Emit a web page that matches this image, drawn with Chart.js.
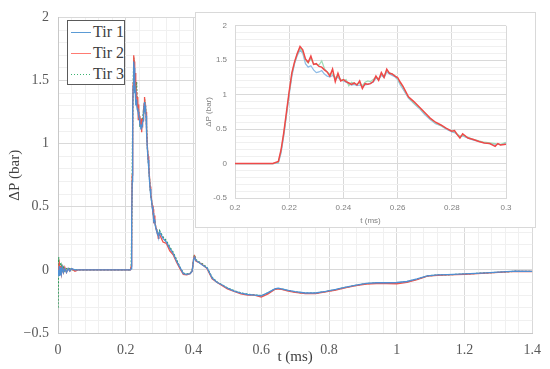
<!DOCTYPE html>
<html>
<head>
<meta charset="utf-8">
<script src="https://cdn.jsdelivr.net/npm/chart.js@4.4.0/dist/chart.umd.min.js"></script>
<style>
	html, body { margin: 0; padding: 0; background: #fff; }
	#wrap { position: relative; width: 550px; height: 369px; overflow: hidden; }
	#main { position: absolute; left: 0; top: 0; }
	#insetBox { position: absolute; left: 195px; top: 12px; width: 339px; height: 214px; background: #fff; border: 1px solid #d9d9d9; }
	#inset { position: absolute; left: 0; top: 0; }
	#legend { position: absolute; left: 67px; top: 20px; width: 56px; height: 63px; border: 1px solid #5a5a5a; background: #fff;
		font-family: 'Liberation Serif', 'DejaVu Serif', serif; font-size: 16px; color: #404040; }
	.lg-row { position: absolute; left: 3px; height: 20px; line-height: 20px; white-space: nowrap; }
	.lg-line { display: inline-block; width: 20px; height: 1.5px; vertical-align: middle; margin-right: 2px; position: relative; top: -1px; }
</style>
</head>
<body>
<div id="wrap">
	<canvas id="main" width="550" height="369"></canvas>
	<div id="insetBox"><canvas id="inset" width="339" height="214"></canvas></div>
	<div id="legend"></div>
</div>
<script>
// ΔP(t) for three shots

const seriesNames = ['Tir 1', 'Tir 2', 'Tir 3'];

const timeMs = [
	0, 0.002, 0.004, 0.006, 0.008, 0.010, 0.013, 0.016, 0.02, 0.025,
	0.03, 0.035, 0.04, 0.05, 0.06, 0.08, 0.1, 0.15, 0.2, 0.214,
	0.216, 0.217, 0.218, 0.219, 0.220, 0.221, 0.222, 0.223, 0.224, 0.225,
	0.226, 0.227, 0.228, 0.229, 0.230, 0.231, 0.232, 0.233, 0.234, 0.235,
	0.236, 0.237, 0.238, 0.239, 0.240, 0.241, 0.242, 0.243, 0.244, 0.245,
	0.246, 0.247, 0.248, 0.249, 0.250, 0.251, 0.252, 0.253, 0.254, 0.255,
	0.256, 0.257, 0.258, 0.259, 0.260, 0.261, 0.262,
	0.264, 0.266, 0.268, 0.270, 0.272, 0.274, 0.276, 0.278, 0.280, 0.281,
	0.282, 0.283, 0.284, 0.286, 0.288, 0.290, 0.292, 0.294, 0.296, 0.297,
	0.298, 0.300,
	0.31, 0.32, 0.33, 0.34, 0.35, 0.36, 0.37, 0.38, 0.39, 0.396,
	0.401, 0.403, 0.407, 0.415, 0.425, 0.44, 0.455, 0.47, 0.485, 0.5,
	0.52, 0.54, 0.56, 0.58, 0.6, 0.62, 0.64, 0.65, 0.66, 0.68,
	0.7, 0.73, 0.76, 0.79, 0.82, 0.85, 0.88, 0.91, 0.94, 0.97,
	1.0, 1.03, 1.06, 1.09, 1.12, 1.15, 1.2, 1.25, 1.3, 1.35, 1.4
];

const tir1 = [
	0, -0.05, 0.03, -0.04, 0.02, -0.03, 0.02, -0.02, 0.01, -0.02,
	0.01, -0.01, 0.01, 0, 0, 0, 0, 0, 0, 0,
	0.01, 0.15, 0.4, 0.7, 1.0, 1.27, 1.45, 1.57, 1.65, 1.6,
	1.45, 1.4, 1.42, 1.36, 1.32, 1.33, 1.35, 1.3, 1.27, 1.26,
	1.28, 1.24, 1.25, 1.21, 1.2, 1.18, 1.16, 1.14, 1.15, 1.13,
	1.14, 1.12, 1.14, 1.15, 1.17, 1.18, 1.24, 1.22, 1.28, 1.25,
	1.33, 1.3, 1.28, 1.26, 1.22, 1.14, 1.08,
	0.95, 0.87, 0.8, 0.71, 0.64, 0.58, 0.55, 0.5, 0.46, 0.45,
	0.42, 0.39, 0.4, 0.37, 0.34, 0.32, 0.3, 0.29, 0.28, 0.28,
	0.27, 0.3,
	0.25, 0.22, 0.17, 0.13, 0.07, 0.02, -0.03, -0.035, -0.03, -0.01,
	0.09, 0.1, 0.075, 0.06, 0.04, 0.015, -0.065, -0.1, -0.12, -0.145,
	-0.168, -0.185, -0.195, -0.2, -0.205, -0.18, -0.15, -0.145, -0.15, -0.163,
	-0.173, -0.183, -0.183, -0.17, -0.155, -0.137, -0.12, -0.107, -0.102, -0.102,
	-0.1, -0.092, -0.072, -0.047, -0.04, -0.038, -0.032, -0.025, -0.018, -0.01, -0.012
];

const tir2 = [
	0, 0.02, 0.05, -0.02, 0.03, -0.03, 0.02, -0.02, 0.02, -0.02,
	0.01, -0.01, 0.01, -0.01, 0, 0, 0, 0, 0, 0,
	0.03, 0.2, 0.45, 0.75, 1.05, 1.32, 1.48, 1.6, 1.7, 1.65,
	1.52, 1.47, 1.56, 1.44, 1.45, 1.41, 1.4, 1.36, 1.33, 1.27,
	1.37, 1.19, 1.31, 1.2, 1.22, 1.19, 1.17, 1.15, 1.17, 1.14,
	1.2, 1.09, 1.16, 1.15, 1.16, 1.19, 1.27, 1.21, 1.32, 1.25,
	1.37, 1.31, 1.3, 1.27, 1.25, 1.18, 1.12,
	0.97, 0.9, 0.82, 0.74, 0.66, 0.6, 0.56, 0.51, 0.47, 0.48,
	0.42, 0.37, 0.43, 0.37, 0.35, 0.32, 0.3, 0.29, 0.25, 0.29,
	0.27, 0.28,
	0.22, 0.21, 0.15, 0.12, 0.06, 0.01, -0.035, -0.04, -0.03, -0.01,
	0.1, 0.11, 0.07, 0.06, 0.045, 0.01, -0.07, -0.1, -0.125, -0.15,
	-0.17, -0.19, -0.2, -0.2, -0.215, -0.19, -0.155, -0.15, -0.155, -0.168,
	-0.178, -0.188, -0.188, -0.175, -0.16, -0.14, -0.125, -0.112, -0.108, -0.108,
	-0.11, -0.098, -0.077, -0.05, -0.043, -0.04, -0.035, -0.028, -0.02, -0.012, -0.013
];

const tir3 = [
	-0.3, 0.1, -0.05, 0.06, -0.02, 0.03, -0.01, 0.02, -0.01, 0.01,
	0, 0.01, 0, 0, 0, 0, 0, 0, 0, 0,
	0.02, 0.18, 0.43, 0.72, 1.03, 1.3, 1.47, 1.59, 1.68, 1.62,
	1.5, 1.46, 1.52, 1.45, 1.44, 1.43, 1.49, 1.38, 1.33, 1.3,
	1.3, 1.25, 1.27, 1.22, 1.2, 1.22, 1.13, 1.18, 1.16, 1.15,
	1.17, 1.13, 1.18, 1.2, 1.19, 1.22, 1.25, 1.23, 1.3, 1.27,
	1.35, 1.32, 1.3, 1.28, 1.23, 1.16, 1.1,
	0.96, 0.88, 0.81, 0.73, 0.65, 0.59, 0.55, 0.51, 0.47, 0.46,
	0.43, 0.4, 0.41, 0.38, 0.35, 0.33, 0.31, 0.3, 0.29, 0.28,
	0.28, 0.31,
	0.26, 0.23, 0.18, 0.14, 0.08, 0.02, -0.025, -0.033, -0.027, -0.005,
	0.1, 0.12, 0.08, 0.065, 0.05, 0.018, -0.06, -0.097, -0.12, -0.143,
	-0.165, -0.183, -0.193, -0.198, -0.205, -0.182, -0.152, -0.148, -0.152, -0.165,
	-0.175, -0.185, -0.185, -0.172, -0.157, -0.138, -0.122, -0.109, -0.104, -0.104,
	-0.103, -0.094, -0.074, -0.048, -0.041, -0.039, -0.033, -0.026, -0.019, -0.011, -0.012
];

const xTickLabels = ['0', '0.2', '0.4', '0.6', '0.8', '1', '1.2', '1.4'];
const yTickLabels = ['\u22120.5', '0', '0.5', '1', '1.5', '2'];
const insetXTickLabels = ['0.2', '0.22', '0.24', '0.26', '0.28', '0.3'];
const insetYTickLabels = ['-0.5', '0', '0.5', '1', '1.5', '2'];

const C = {
	blue: '#4f8fd3', red: '#f0544c', green: '#2e9e5a',
	blueLight: '#8dbbe6', redLight: '#f04848', greenLight: '#9fdcb6',
	grid: '#d9d9d9', minor: '#f0f0f0', tick: '#595959', title: '#404040'
};
const SERIF = "'Liberation Serif', 'DejaVu Serif', serif";
const SANS = "'Liberation Sans', Arial, sans-serif";

function pts(ys) { return timeMs.map((t, i) => ({ x: t, y: ys[i] })); }
function near(v, step) { const q = v / step; return Math.abs(q - Math.round(q)) < 1e-6; }
function labelFor(list, min, step) {
	return v => near(v - min, step) ? (list[Math.round((v - min) / step)] ?? '') : '';
}

//  Main chart
const mainChart = new Chart(document.getElementById('main'), {
	type: 'line',
	data: {
		datasets: [
			{ label: seriesNames[0], data: pts(tir1), borderColor: C.blue, borderWidth: 1.3 },
			{ label: seriesNames[1], data: pts(tir2), borderColor: C.red, borderWidth: 1.3 },
			{ label: seriesNames[2], data: pts(tir3), borderColor: C.green, borderWidth: 1.3, borderDash: [2, 1.5] }
		]
	},
	options: {
		responsive: false, animation: false,
		elements: { point: { radius: 0 }, line: { tension: 0 } },
		layout: { padding: { left: 0, right: 14, top: 12, bottom: 0 } },
		plugins: { legend: { display: false }, tooltip: { enabled: false } },
		scales: {
			x: {
				type: 'linear', min: 0, max: 1.4,
				afterFit: s => { s.height = 36; },
				ticks: { stepSize: 0.04, autoSkip: false, maxRotation: 0, padding: 9, color: C.tick, font: { family: SERIF, size: 14 }, callback: labelFor(xTickLabels, 0, 0.2) },
				grid: { drawTicks: false, color: ctx => near(ctx.tick.value, 0.2) ? C.grid : C.minor },
				border: { color: '#c8c8c8' },
				title: { display: true, text: 't (ms)', color: C.title, font: { family: SERIF, size: 15 }, padding: { top: 0, bottom: 3 } }
			},
			y: {
				min: -0.5, max: 2,
				afterFit: s => { s.width = 58; },
				ticks: { stepSize: 0.1, autoSkip: false, padding: 9, color: C.tick, font: { family: SERIF, size: 14 }, callback: labelFor(yTickLabels, -0.5, 0.5) },
				grid: { drawTicks: false, color: ctx => near(ctx.tick.value, 0.5) ? C.grid : C.minor },
				border: { color: '#c8c8c8' },
				title: { display: true, text: '\u0394P (bar)', color: C.title, font: { family: SERIF, size: 15 }, padding: { top: 6, bottom: 0 } }
			}
		}
	}
});

//  Inset (zoom on 0.2 – 0.3 ms)
new Chart(document.getElementById('inset'), {
	type: 'line',
	data: {
		datasets: [
			{ label: seriesNames[0], data: pts(tir1), borderColor: C.blueLight, borderWidth: 1.2, order: 3 },
			{ label: seriesNames[1], data: pts(tir2), borderColor: C.redLight, borderWidth: 1.5, order: 1 },
			{ label: seriesNames[2], data: pts(tir3), borderColor: C.greenLight, borderWidth: 1.2, order: 2 }
		]
	},
	options: {
		responsive: false, animation: false,
		elements: { point: { radius: 0 }, line: { tension: 0 } },
		layout: { padding: { left: 0, right: 29, top: 11, bottom: 0 } },
		plugins: { legend: { display: false }, tooltip: { enabled: false } },
		scales: {
			x: {
				type: 'linear', min: 0.2, max: 0.3,
				afterFit: s => { s.height = 29; },
				ticks: { stepSize: 0.02, autoSkip: false, maxRotation: 0, padding: 5, color: '#7f7f7f', font: { family: SANS, size: 8 }, callback: labelFor(insetXTickLabels, 0.2, 0.02) },
				grid: { drawTicks: false, color: C.grid },
				border: { color: C.grid },
				title: { display: true, text: 't (ms)', color: '#7f7f7f', font: { family: SANS, size: 8 }, padding: { top: 0, bottom: 1 } }
			},
			y: {
				min: -0.5, max: 2,
				afterFit: s => { s.width = 39; },
				ticks: { stepSize: 0.1, autoSkip: false, padding: 8, color: '#7f7f7f', font: { family: SANS, size: 8 }, callback: labelFor(insetYTickLabels, -0.5, 0.5) },
				grid: { drawTicks: false, color: ctx => near(ctx.tick.value, 0.5) ? C.grid : C.minor },
				border: { color: C.grid },
				title: { display: true, text: '\u0394P (bar)', color: '#7f7f7f', font: { family: SANS, size: 8 }, padding: { top: 8, bottom: 0 } }
			}
		}
	}
});

//  Legend
const legendColors = ['#5b9bd5', '#ff7b72', '#3cb371'];
document.getElementById('legend').innerHTML = mainChart.data.datasets.map((d, i) => {
	const c = legendColors[i];
	const fill = d.borderDash
		? `background-image:repeating-linear-gradient(90deg, ${c} 0 1.5px, transparent 1.5px 3px)`
		: `background:${c}`;
	return `
	<div class="lg-row" style="top:${1 + i * 21}px">
		<span class="lg-line" style="${fill}"></span>${d.label}
	</div>`;
}).join('');
</script>
</body>
</html>
